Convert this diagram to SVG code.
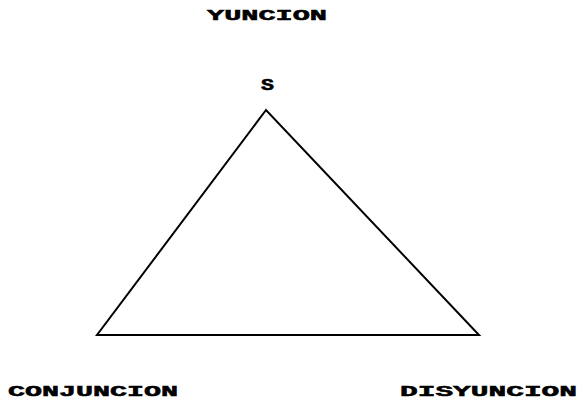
<svg xmlns="http://www.w3.org/2000/svg" width="579" height="399" viewBox="0 0 579 399">
<style>
.t{font-family:"Liberation Mono","Courier New",monospace;font-weight:bold;font-size:14px;fill:#000;stroke:#000;stroke-width:0.5}
.e{fill:none;stroke:#000;stroke-width:2;stroke-linejoin:miter}
</style>
<rect width="579" height="399" fill="#fff"/>
<g id="connectors">
<polygon class="e" points="266,110 97,335 479,335"/>
</g>
<g id="yuncion"><text class="t" x="207" y="20" textLength="120" lengthAdjust="spacingAndGlyphs">YUNCION</text></g>
<g id="s"><text class="t" x="261" y="90" style="font-size:16px" textLength="13" lengthAdjust="spacingAndGlyphs">S</text></g>
<g id="conjuncion"><text class="t" x="8" y="396" textLength="170" lengthAdjust="spacingAndGlyphs">CONJUNCION</text></g>
<g id="disyuncion"><text class="t" x="400" y="396" textLength="177" lengthAdjust="spacingAndGlyphs">DISYUNCION</text></g>
</svg>
